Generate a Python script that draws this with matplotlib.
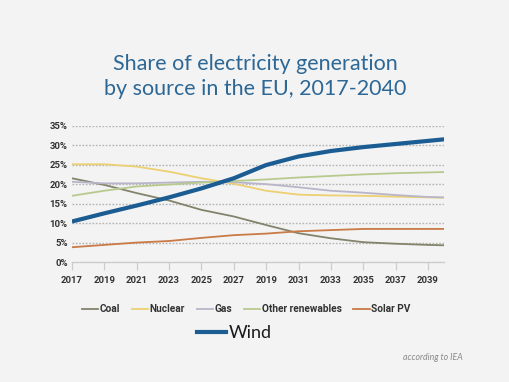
import matplotlib.pyplot as plt
from matplotlib.lines import Line2D

plt.rcParams['font.family'] = ['Lato', 'DejaVu Sans']

# data (% share of generation)
years = [2017, 2019, 2021, 2023, 2025, 2027, 2029, 2031, 2033, 2035, 2037, 2039, 2040]
coal = [21.5, 19.8, 17.7, 15.8, 13.4, 11.7, 9.5, 7.4, 6.1, 5.1, 4.7, 4.4, 4.3]
nuclear = [25.1, 25.1, 24.5, 23.2, 21.5, 20.1, 18.3, 17.3, 17.1, 17.0, 16.8, 16.6, 16.5]
gas = [20.6, 20.2, 20.2, 20.4, 20.6, 20.5, 20.0, 19.2, 18.3, 17.8, 17.2, 16.7, 16.6]
other_renew = [17.0, 18.3, 19.4, 19.9, 20.4, 20.8, 21.2, 21.7, 22.1, 22.5, 22.8, 23.0, 23.1]
solar_pv = [3.8, 4.4, 5.0, 5.4, 6.2, 6.9, 7.3, 7.9, 8.2, 8.5, 8.5, 8.5, 8.5]
wind = [10.4, 12.5, 14.5, 16.6, 18.9, 21.5, 24.9, 27.1, 28.5, 29.5, 30.3, 31.1, 31.5]

tick_years = list(range(2017, 2040, 2))
tick_labels = ['2017', '2019', '2021', '2023', '2025', '2027', '2019',
               '2031', '2033', '2035', '2037', '2039']
y_ticks = [0, 5, 10, 15, 20, 25, 30, 35]

bg = '#f3f3f3'
bold_font = ['Roboto', 'DejaVu Sans']
fig = plt.figure(figsize=(5.1, 3.82), dpi=100, facecolor=bg)
ax = fig.add_axes([0.141, 0.314, 0.730, 0.357], facecolor=bg)

series = [
    ('Coal', coal, '#83836c'),
    ('Nuclear', nuclear, '#ecd071'),
    ('Gas', gas, '#b9b5c9'),
    ('Other renewables', other_renew, '#b7ca8e'),
    ('Solar PV', solar_pv, '#c97a45'),
]
for name, vals, col in series:
    ax.plot(years, vals, color=col, lw=1.3, solid_joinstyle='round')
ax.plot(years, wind, color='#1b5d93', lw=3.0, solid_capstyle='butt')

ax.set_xlim(2017, 2040)
ax.set_ylim(0, 35)
ax.set_yticks(y_ticks)
ax.set_yticklabels([f'{v}%' for v in y_ticks])
ax.set_xticks(tick_years)
ax.set_xticklabels(tick_labels)
for v in y_ticks[1:]:
    ax.axhline(v, color='#b3b3b3', lw=1.0, ls=(0, (1.2, 1.2)), zorder=0)

for s in ['top', 'right', 'left']:
    ax.spines[s].set_visible(False)
ax.spines['bottom'].set_color('#cccccc')
ax.spines['bottom'].set_linewidth(1.0)
ax.tick_params(axis='x', length=6, width=0.9, color='#cccccc', pad=4,
               labelsize=6.8, labelcolor='#333333')
ax.tick_params(axis='y', length=0, pad=3, labelsize=6.8, labelcolor='#333333')
for lab in ax.get_xticklabels() + ax.get_yticklabels():
    lab.set_family(bold_font)
    lab.set_fontweight('bold')

fig.text(0.5, 0.80, 'Share of electricity generation\nby source in the EU, 2017-2040',
         ha='center', va='center', fontsize=15.5, color='#2d6795', linespacing=1.3)

handles = [Line2D([], [], color=c, lw=1.3) for _, _, c in series]
leg1 = fig.legend(handles, [n for n, _, _ in series], loc='center',
                  bbox_to_anchor=(0.483, 0.19), ncol=5, frameon=False,
                  prop={'family': bold_font, 'weight': 'bold', 'size': 7.3},
                  handlelength=1.6, handletextpad=0.15, columnspacing=1.15)
for t in leg1.get_texts():
    t.set_color('#333333')

leg2 = fig.legend([Line2D([], [], color='#1b5d93', lw=3.0)], ['Wind'], loc='center',
                  bbox_to_anchor=(0.46, 0.128), frameon=False, fontsize=13,
                  handlelength=1.6, handletextpad=0.15)
leg2.get_texts()[0].set_color('#1a1a1a')

fig.text(0.908, 0.065, 'according to IEA', ha='right', va='center',
         fontsize=6.3, style='italic', color='#8a8a8a')

fig.savefig('out.png', dpi=100, facecolor=bg)
